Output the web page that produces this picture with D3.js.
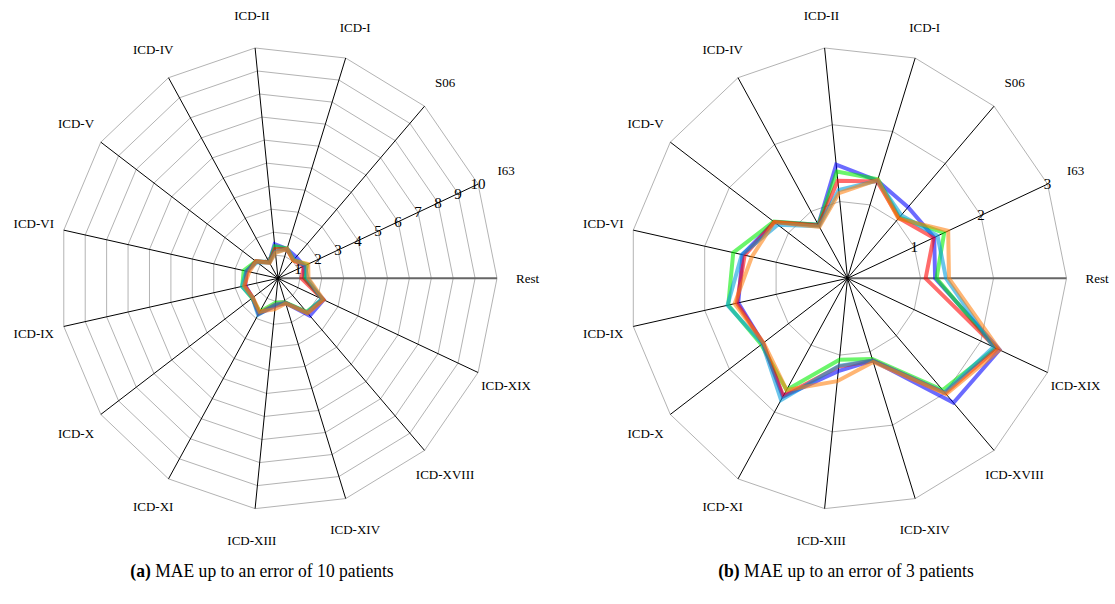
<!DOCTYPE html>
<html>
<head>
<meta charset="utf-8">
<script src="https://cdn.jsdelivr.net/npm/d3@7"></script>
<style>
  html, body { margin: 0; padding: 0; background: #fff; }
  svg { display: block; }
  text { font-family: "Liberation Serif", "DejaVu Serif", serif; }
</style>
</head>
<body>
<svg id="chart" width="1115" height="604"></svg>
<script>
// Axis categories, counter-clockwise from the right-hand side
const categories = ["Rest", "I63", "S06", "ICD-I", "ICD-II", "ICD-IV", "ICD-V", "ICD-VI",
  "ICD-IX", "ICD-X", "ICD-XI", "ICD-XIII", "ICD-XIV", "ICD-XVIII", "ICD-XIX"];

// MAE per category for each model (patients)
const seriesBlue      = [1.20, 1.30, 1.24, 1.33, 1.48, 0.80, 1.24, 1.47, 1.53, 1.43, 1.77, 1.21, 1.12, 2.17, 2.28];
const seriesGreen     = [1.22, 1.45, 1.06, 1.35, 1.39, 0.80, 1.25, 1.60, 1.67, 1.46, 1.67, 1.06, 1.10, 1.95, 2.22];
const seriesRed       = [1.07, 1.29, 1.05, 1.32, 1.27, 0.79, 1.24, 1.44, 1.55, 1.43, 1.76, 1.15, 1.12, 2.00, 2.24];
const seriesLightBlue = [1.35, 1.35, 1.10, 1.33, 1.15, 0.78, 1.18, 1.48, 1.68, 1.44, 1.82, 1.14, 1.12, 1.99, 2.19];
const seriesOrange    = [1.39, 1.51, 1.04, 1.34, 1.11, 0.77, 1.24, 1.34, 1.58, 1.42, 1.67, 1.34, 1.14, 2.02, 2.28];

const seriesList = [
  { values: seriesBlue,      color: "#0000ff" },
  { values: seriesGreen,     color: "#00ee00" },
  { values: seriesRed,       color: "#ff0000" },
  { values: seriesLightBlue, color: "#009bdb" },
  { values: seriesOrange,    color: "#ff800d" }
];

// Radial tick labels for the two panels
const ticksA = [1, 2, 3, 4, 5, 6, 7, 8, 9, 10];
const ticksB = [1, 2, 3];

const captionA = { tag: "(a)", text: " MAE up to an error of 10 patients" };
const captionB = { tag: "(b)", text: " MAE up to an error of 3 patients" };

const FONT = "Liberation Serif, DejaVu Serif, serif";
const svg = d3.select("#chart");
const RX = 219, RY = 231.6;
const step = 2 * Math.PI / categories.length;

function drawRadar(cx, cy, maxVal, ticks, caption, capX) {
  const g = svg.append("g");
  const r = d3.scaleLinear().domain([0, maxVal]).range([0, 1]);
  const pt = (i, v) => {
    const a = i * step, f = r(v);
    return [cx + RX * f * Math.cos(a), cy - RY * f * Math.sin(a)];
  };
  const ring = d3.line().curve(d3.curveLinearClosed);

  // grid rings
  g.append("g").selectAll("path").data(ticks).join("path")
    .attr("d", t => ring(categories.map((c, i) => pt(i, t))))
    .attr("fill", "none").attr("stroke", "#b3b3b3").attr("stroke-width", 1);

  // spokes
  g.append("g").selectAll("line").data(categories).join("line")
    .attr("x1", cx).attr("y1", cy)
    .attr("x2", (c, i) => pt(i, maxVal)[0])
    .attr("y2", (c, i) => pt(i, maxVal)[1])
    .attr("stroke", (c, i) => i === 0 ? "#666" : "#000")
    .attr("stroke-width", (c, i) => i === 0 ? 2 : 1);

  // series outlines
  g.append("g").selectAll("path").data(seriesList).join("path")
    .attr("d", s => ring(s.values.map((v, i) => pt(i, v))))
    .attr("fill", "none")
    .attr("stroke", s => s.color)
    .attr("stroke-opacity", 0.58)
    .attr("stroke-width", 4)
    .attr("stroke-linejoin", "miter");

  // tick values along the I63 spoke
  g.append("g").selectAll("text").data(ticks).join("text")
    .attr("x", t => pt(1, t)[0])
    .attr("y", t => pt(1, t)[1])
    .attr("text-anchor", "middle").attr("dominant-baseline", "central")
    .attr("font-family", FONT).attr("font-size", 15).attr("fill", "#000")
    .text(t => t);

  // category labels
  g.append("g").selectAll("text").data(categories).join("text")
    .attr("x", (c, i) => pt(i, maxVal * 1.14)[0])
    .attr("y", (c, i) => pt(i, maxVal * 1.14)[1])
    .attr("text-anchor", "middle").attr("dominant-baseline", "central")
    .attr("font-family", FONT).attr("font-size", 13).attr("fill", "#000")
    .text(c => c);

  // caption, slightly condensed horizontally
  const cap = svg.append("text")
    .attr("transform", `translate(${capX},577) scale(0.95,1)`)
    .attr("text-anchor", "middle")
    .attr("font-family", FONT).attr("font-size", 18.5).attr("fill", "#000");
  cap.append("tspan").attr("font-weight", "bold").text(caption.tag);
  cap.append("tspan").text(caption.text);
}

drawRadar(278, 278.3, 10, ticksA, captionA, 262);
drawRadar(847.5, 278.3, 3, ticksB, captionB, 846);
</script>
</body>
</html>
